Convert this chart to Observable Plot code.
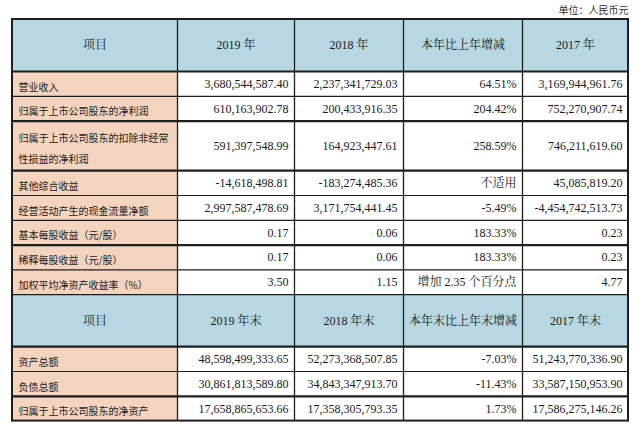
<!DOCTYPE html>
<html><head><meta charset="utf-8">
<script src="https://cdn.jsdelivr.net/npm/d3@7"></script>
<script src="https://cdn.jsdelivr.net/npm/@observablehq/plot@0.6"></script>
<style>body{margin:0;background:#fff;overflow:hidden}</style>
</head><body><div id="chart"></div>
<script>
// ---- data ----
const unitLabel = "单位：人民币元";
const headers1 = ["项目", "2019 年", "2018 年", "本年比上年增减", "2017 年"];
const items1 = [
  "营业收入",
  "归属于上市公司股东的净利润",
  "归属于上市公司股东的扣除非经常\n性损益的净利润",
  "其他综合收益",
  "经营活动产生的现金流量净额",
  "基本每股收益（元/股）",
  "稀释每股收益（元/股）",
  "加权平均净资产收益率（%）"
];
const val2019 = ["3,680,544,587.40", "610,163,902.78", "591,397,548.99", "-14,618,498.81", "2,997,587,478.69", "0.17", "0.17", "3.50"];
const val2018 = ["2,237,341,729.03", "200,433,916.35", "164,923,447.61", "-183,274,485.36", "3,171,754,441.45", "0.06", "0.06", "1.15"];
const change1 = ["64.51%", "204.42%", "258.59%", "不适用", "-5.49%", "183.33%", "183.33%", "增加 2.35 个百分点"];
const val2017 = ["3,169,944,961.76", "752,270,907.74", "746,211,619.60", "45,085,819.20", "-4,454,742,513.73", "0.23", "0.23", "4.77"];

const headers2 = ["项目", "2019 年末", "2018 年末", "本年末比上年末增减", "2017 年末"];
const items2 = ["资产总额", "负债总额", "归属于上市公司股东的净资产"];
const end2019 = ["48,598,499,333.65", "30,861,813,589.80", "17,658,865,653.66"];
const end2018 = ["52,273,368,507.85", "34,843,347,913.70", "17,358,305,793.35"];
const change2 = ["-7.03%", "-11.43%", "1.73%"];
const end2017 = ["51,243,770,336.90", "33,587,150,953.90", "17,586,275,146.26"];

// ---- layout ----
const W = 640, H = 438;
const colWidths = [165, 117, 109, 119, 106];
const tableLeft = 12, tableTop = 19;
const headerH = 52, rowH = 24.8;
const spans1 = [1, 1, 2, 1, 1, 1, 1, 1];
const spans2 = [1, 1, 1];
const thickAfter = new Set([0, 2, 3, 6, 9, 11]); // row indices whose bottom line is heavier
const colors = {header: "#b7d8e2", item: "#f4d4bf", body: "#ffffff", line: "#1e1e1e", text: "#1a1a1a"};

const colX = [tableLeft];
colWidths.forEach(w => colX.push(colX[colX.length - 1] + w));
const tableRight = colX[colX.length - 1];

const rows = [];
let y = tableTop;
function addRow(kind, texts, span) {
  const h = kind === "header" ? headerH : rowH * span;
  rows.push({kind, texts, y1: y, y2: y + h});
  y += h;
}
addRow("header", headers1, 1);
items1.forEach((it, i) => addRow("body", [it, val2019[i], val2018[i], change1[i], val2017[i]], spans1[i]));
addRow("header", headers2, 1);
items2.forEach((it, i) => addRow("body", [it, end2019[i], end2018[i], change2[i], end2017[i]], spans2[i]));
const tableBottom = y;

const cells = [];
rows.forEach((r, ri) => r.texts.forEach((t, c) => cells.push({
  row: ri, kind: r.kind, col: c, text: t,
  x1: colX[c], x2: colX[c + 1], y1: r.y1, y2: r.y2, ym: (r.y1 + r.y2) / 2
})));

const hLines = rows.slice(0, -1).map((r, i) => ({y: r.y2, w: thickAfter.has(i) ? 2.2 : 1.2}));
const vLines = colX.slice(1, -1).map(x => ({x}));

const serif = "'Liberation Serif', 'Times New Roman', 'Noto Serif CJK SC', 'Noto Sans CJK SC', serif";
const cjk = "'Noto Sans CJK SC', sans-serif";

const chart = Plot.plot({
  width: W, height: H,
  margin: 0,
  x: {domain: [0, W], range: [0, W], axis: null},
  y: {domain: [0, H], range: [0, H], axis: null},
  marks: [
    Plot.rect(cells, {x1: "x1", x2: "x2", y1: "y1", y2: "y2",
      fill: d => d.kind === "header" ? colors.header : d.col === 0 ? colors.item : colors.body}),
    Plot.ruleY(hLines, {y: "y", x1: tableLeft, x2: tableRight, stroke: colors.line, strokeWidth: "w"}),
    Plot.ruleX(vLines, {x: "x", y1: tableTop, y2: tableBottom, stroke: colors.line, strokeWidth: 1.3}),
    Plot.rect([{x1: tableLeft, x2: tableRight, y1: tableTop, y2: tableBottom}],
      {x1: "x1", x2: "x2", y1: "y1", y2: "y2", fill: "none", stroke: colors.line, strokeWidth: 2}),
    // header texts
    Plot.text(cells.filter(d => d.kind === "header"), {
      x: d => (d.x1 + d.x2) / 2, y: "ym", text: "text", textAnchor: "middle",
      fontFamily: serif, fontSize: 12, fill: colors.text
    }),
    // item names
    Plot.text(cells.filter(d => d.kind === "body" && d.col === 0), {
      x: "x1", y: "ym", dx: 6, text: "text", textAnchor: "start", lineHeight: 2.1,
      fontFamily: cjk, fontSize: 10, fill: colors.text
    }),
    // values
    Plot.text(cells.filter(d => d.kind === "body" && d.col > 0), {
      x: "x2", y: "ym", dx: -6, text: "text", textAnchor: "end",
      fontFamily: serif, fontSize: 12, fill: colors.text
    }),
    Plot.text([unitLabel], {x: tableRight, y: 10, text: d => d, textAnchor: "end",
      fontFamily: cjk, fontSize: 10, fill: "#333"})
  ]
});
document.getElementById("chart").append(chart);
</script>
</body></html>
